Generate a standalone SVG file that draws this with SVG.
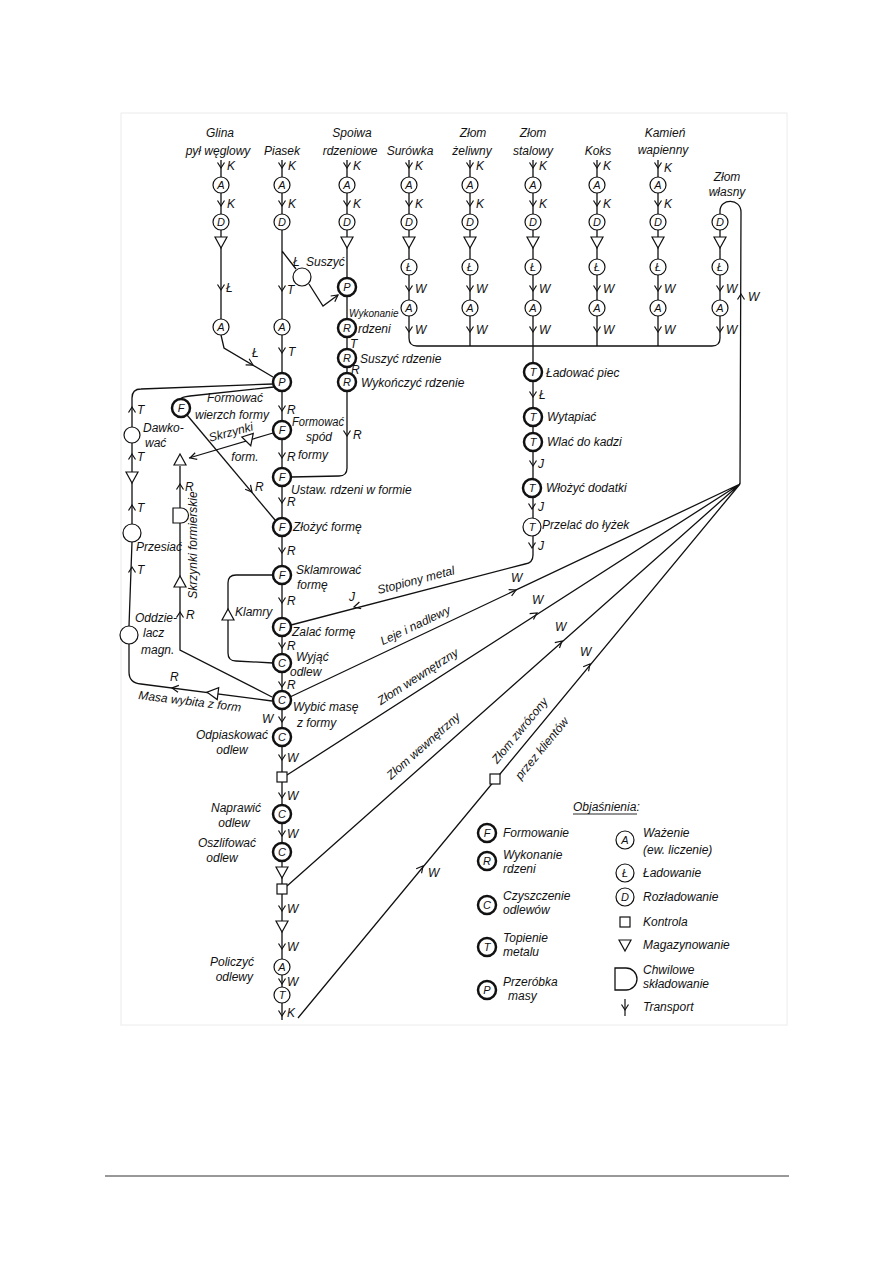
<svg xmlns="http://www.w3.org/2000/svg" width="893" height="1263" viewBox="0 0 893 1263">
<style>
.t{font-family:"Liberation Sans",Arial,sans-serif;font-style:italic;font-size:12px;fill:#111}
.c{text-anchor:middle}
.e{text-anchor:end}
.nl{font-family:"Liberation Sans",Arial,sans-serif;font-style:italic;font-size:11px;fill:#111;text-anchor:middle}
.ln{fill:none;stroke:#111;stroke-width:1.3}
.b{fill:#fff;stroke:#111;stroke-width:2.5}
.h{fill:#fff;stroke:#111;stroke-width:1.2}
</style>
<defs>
<path id="ad" d="M-3.5,-5.5L0,0L3.5,-5.5" fill="none" stroke="#111" stroke-width="1.2"/>
<path id="au" d="M-3.5,5.5L0,0L3.5,5.5" fill="none" stroke="#111" stroke-width="1.2"/>
<path id="ah" d="M-6.5,-3.5L0,0L-6.5,3.5" fill="none" stroke="#111" stroke-width="1.2"/>
<polygon id="tri" points="-6,-5 6,-5 0,6" fill="#fff" stroke="#111" stroke-width="1.2"/>
<polygon id="triu" points="-6,5 6,5 0,-6" fill="#fff" stroke="#111" stroke-width="1.2"/>
<rect id="sq" x="-5" y="-5" width="10" height="10" fill="#fff" stroke="#111" stroke-width="1.2"/>
</defs>
<rect x="0" y="0" width="893" height="1263" fill="#fff"/>
<rect x="121" y="113" width="666" height="912" fill="none" stroke="#ececec" stroke-width="1"/>
<line x1="105" y1="1176" x2="789" y2="1176" stroke="#333" stroke-width="1"/>

<g id="connectors">
<path class="ln" d="M221,160L221,319M221,335L224,348L273,377"/>
<path class="ln" d="M282,160L282,1020M282,251L296,269"/>
<path class="ln" d="M309,284L323,306L338,295"/>
<path class="ln" d="M347,160L347,468Q347,476 339,476L291,477"/>
<path class="ln" d="M409,160L409,338Q409,346 417,346L712,346Q720,346 720,338L720,214"/>
<path class="ln" d="M470,160L470,346M597,160L597,346M658,160L658,346"/>
<path class="ln" d="M533,160L533,555Q533,563 525,564L291,625"/>
<path class="ln" d="M720,214L720,211C720,198 741,198 741,212L740,484"/>
<path class="ln" d="M273,384L141,389Q132,389 132,398L132,542L129,626L129,672Q129,683 141,684L272,701"/>
<path class="ln" d="M274,387L190,396Q181,397 181,399"/>
<path class="ln" d="M187,415L275,520"/>
<path class="ln" d="M273,433L189,458"/>
<path class="ln" d="M180,466L180,650L272,697"/>
<path class="ln" d="M273,575L236,575Q228,575 228,583L228,653Q228,661 236,661L273,663"/>
<path class="ln" d="M740,484L290,697M740,484L287,775M740,484L287,886M740,484L298,1018"/>
<g>
<use href="#ad" x="221" y="168"/><use href="#ad" x="282" y="168"/><use href="#ad" x="347" y="168"/><use href="#ad" x="409" y="168"/><use href="#ad" x="470" y="168"/><use href="#ad" x="533" y="168"/><use href="#ad" x="597" y="168"/><use href="#ad" x="658" y="168"/>
<use href="#ad" x="221" y="206"/><use href="#ad" x="282" y="206"/><use href="#ad" x="347" y="206"/><use href="#ad" x="409" y="206"/><use href="#ad" x="470" y="206"/><use href="#ad" x="533" y="206"/><use href="#ad" x="597" y="206"/><use href="#ad" x="658" y="206"/>
<use href="#ad" x="221" y="290"/><use href="#ad" x="282" y="291"/><use href="#ad" x="282" y="353"/>
<use href="#ad" x="409" y="291"/><use href="#ad" x="470" y="291"/><use href="#ad" x="533" y="291"/><use href="#ad" x="597" y="291"/><use href="#ad" x="658" y="291"/><use href="#ad" x="720" y="291"/>
<use href="#ad" x="409" y="332"/><use href="#ad" x="470" y="332"/><use href="#ad" x="533" y="332"/><use href="#ad" x="597" y="332"/><use href="#ad" x="658" y="332"/><use href="#ad" x="720" y="332"/>
<use href="#ad" x="533" y="397"/><use href="#ad" x="533" y="466"/><use href="#ad" x="532" y="509"/><use href="#ad" x="532" y="548"/>
<use href="#ad" x="347" y="436"/>
<use href="#ad" x="282" y="411"/><use href="#ad" x="282" y="458"/><use href="#ad" x="282" y="503"/><use href="#ad" x="282" y="553"/><use href="#ad" x="282" y="603"/><use href="#ad" x="282" y="648"/><use href="#ad" x="282" y="687"/>
<use href="#ad" x="282" y="722"/><use href="#ad" x="282" y="760"/><use href="#ad" x="282" y="798"/><use href="#ad" x="282" y="836"/><use href="#ad" x="282" y="911"/><use href="#ad" x="282" y="949"/><use href="#ad" x="282" y="984"/><use href="#ad" x="282" y="1016"/>
<use href="#au" x="132" y="407"/><use href="#au" x="132" y="454"/><use href="#au" x="132" y="505"/><use href="#au" x="132" y="567"/>
<use href="#au" x="180" y="484"/><use href="#au" x="180" y="612"/><use href="#au" x="741" y="294"/>
<use href="#ah" transform="translate(253,365) rotate(30)"/>
<use href="#ah" transform="translate(252,492) rotate(50)"/>
<use href="#ah" transform="translate(190,458) rotate(163)"/>
<use href="#ah" transform="translate(338,295) rotate(-36)"/>
<use href="#ah" transform="translate(354,607) rotate(165.4)"/>
<use href="#ah" transform="translate(172,688) rotate(187)"/>
<use href="#ah" transform="translate(516,590) rotate(-25.4)"/>
<use href="#ah" transform="translate(537,613) rotate(-32.8)"/>
<use href="#ah" transform="translate(562,641) rotate(-41.6)"/>
<use href="#ah" transform="translate(590,664) rotate(-50.5)"/>
<use href="#ah" transform="translate(423,866) rotate(-50.5)"/>
</g>
<g class="t">
<text x="227" y="170">K</text><text x="288" y="170">K</text><text x="353" y="170">K</text><text x="415" y="170">K</text><text x="476" y="170">K</text><text x="539" y="170">K</text><text x="603" y="170">K</text><text x="664" y="172">K</text>
<text x="227" y="208">K</text><text x="288" y="208">K</text><text x="353" y="208">K</text><text x="415" y="208">K</text><text x="476" y="208">K</text><text x="539" y="208">K</text><text x="603" y="208">K</text><text x="664" y="208">K</text>
<text x="226" y="292">Ł</text><text x="287" y="294">T</text><text x="288" y="356">T</text>
<text x="415" y="293">W</text><text x="476" y="293">W</text><text x="539" y="293">W</text><text x="603" y="293">W</text><text x="664" y="293">W</text><text x="726" y="293">W</text>
<text x="415" y="334">W</text><text x="476" y="334">W</text><text x="539" y="334">W</text><text x="603" y="334">W</text><text x="664" y="334">W</text><text x="726" y="334">W</text>
<text x="748" y="301">W</text>
<text x="252" y="357">Ł</text>
<text x="293" y="266">Ł</text>
<text x="539" y="399">Ł</text><text x="538" y="468">J</text><text x="538" y="511">J</text><text x="538" y="550">J</text>
<text x="353" y="439">R</text>
<text x="287" y="414">R</text><text x="287" y="461">R</text><text x="287" y="506">R</text><text x="287" y="555">R</text><text x="287" y="605">R</text><text x="287" y="650">R</text><text x="287" y="689">R</text>
<text x="262" y="723">W</text><text x="287" y="762">W</text><text x="287" y="800">W</text><text x="287" y="838">W</text><text x="287" y="913">W</text><text x="287" y="951">W</text><text x="287" y="986">W</text><text x="287" y="1017">K</text>
<text x="137" y="414">T</text><text x="137" y="461">T</text><text x="137" y="512">T</text><text x="137" y="574">T</text>
<text x="185" y="491">R</text><text x="186" y="619">R</text>
<text x="255" y="491">R</text>
<text x="170" y="681">R</text>
<text x="349" y="601">J</text>
<text x="511" y="582">W</text><text x="532" y="604">W</text><text x="555" y="631">W</text><text x="580" y="656">W</text><text x="428" y="877">W</text>
<text x="350" y="348">T</text><text x="351" y="374">R</text>
</g>
</g>

<g id="node-glina" class="t c"><text x="220" y="137">Glina</text><text x="218" y="155">pył węglowy</text>
<circle class="h" cx="221" cy="185" r="8"/><text class="nl" x="221" y="189">A</text>
<circle class="h" cx="221" cy="222" r="8"/><text class="nl" x="221" y="226">D</text>
<use href="#tri" x="221" y="242"/>
<circle class="h" cx="221" cy="327" r="8"/><text class="nl" x="221" y="331">A</text></g>

<g id="node-piasek" class="t c"><text x="282" y="155">Piasek</text>
<circle class="h" cx="282" cy="185" r="8"/><text class="nl" x="282" y="189">A</text>
<circle class="h" cx="282" cy="222" r="8"/><text class="nl" x="282" y="226">D</text>
<circle class="h" cx="282" cy="327" r="8"/><text class="nl" x="282" y="331">A</text></g>

<g id="node-suszyc"><circle class="h" cx="302" cy="277" r="9"/><text class="t" x="306" y="266">Suszyć</text></g>

<g id="node-spoiwa" class="t c"><text x="352" y="137">Spoiwa</text><text x="350" y="155">rdzeniowe</text>
<circle class="h" cx="347" cy="185" r="8"/><text class="nl" x="347" y="189">A</text>
<circle class="h" cx="347" cy="222" r="8"/><text class="nl" x="347" y="226">D</text>
<use href="#tri" x="347" y="242"/>
<circle class="b" cx="347" cy="287" r="9"/><text class="nl" x="347" y="291">P</text></g>

<g id="node-rdzenie">
<circle class="b" cx="347" cy="328" r="9"/><text class="nl" x="347" y="332">R</text>
<text class="t" x="349" y="317" style="font-size:10px">Wykonanie</text><text class="t" x="358" y="333">rdzeni</text>
<circle class="b" cx="347" cy="358" r="9"/><text class="nl" x="347" y="362">R</text>
<text class="t" x="360" y="363">Suszyć rdzenie</text>
<circle class="b" cx="347" cy="382" r="9"/><text class="nl" x="347" y="386">R</text>
<text class="t" x="361" y="387">Wykończyć rdzenie</text></g>

<g id="node-surowka" class="t c"><text x="410" y="155">Surówka</text>
<circle class="h" cx="409" cy="185" r="8"/><text class="nl" x="409" y="189">A</text>
<circle class="h" cx="409" cy="222" r="8"/><text class="nl" x="409" y="226">D</text>
<use href="#tri" x="409" y="242"/>
<circle class="h" cx="409" cy="267" r="8"/><text class="nl" x="409" y="271">Ł</text>
<circle class="h" cx="409" cy="308" r="8"/><text class="nl" x="409" y="312">A</text></g>

<g id="node-zeliwny" class="t c"><text x="473" y="137">Złom</text><text x="472" y="155">żeliwny</text>
<circle class="h" cx="470" cy="185" r="8"/><text class="nl" x="470" y="189">A</text>
<circle class="h" cx="470" cy="222" r="8"/><text class="nl" x="470" y="226">D</text>
<use href="#tri" x="470" y="242"/>
<circle class="h" cx="470" cy="267" r="8"/><text class="nl" x="470" y="271">Ł</text>
<circle class="h" cx="470" cy="308" r="8"/><text class="nl" x="470" y="312">A</text></g>

<g id="node-stalowy" class="t c"><text x="533" y="137">Złom</text><text x="533" y="155">stalowy</text>
<circle class="h" cx="533" cy="185" r="8"/><text class="nl" x="533" y="189">A</text>
<circle class="h" cx="533" cy="222" r="8"/><text class="nl" x="533" y="226">D</text>
<use href="#tri" x="533" y="242"/>
<circle class="h" cx="533" cy="267" r="8"/><text class="nl" x="533" y="271">Ł</text>
<circle class="h" cx="533" cy="308" r="8"/><text class="nl" x="533" y="312">A</text></g>

<g id="node-koks" class="t c"><text x="598" y="155">Koks</text>
<circle class="h" cx="597" cy="185" r="8"/><text class="nl" x="597" y="189">A</text>
<circle class="h" cx="597" cy="222" r="8"/><text class="nl" x="597" y="226">D</text>
<use href="#tri" x="597" y="242"/>
<circle class="h" cx="597" cy="267" r="8"/><text class="nl" x="597" y="271">Ł</text>
<circle class="h" cx="597" cy="308" r="8"/><text class="nl" x="597" y="312">A</text></g>

<g id="node-kamien" class="t c"><text x="665" y="137">Kamień</text><text x="663" y="154">wapienny</text>
<circle class="h" cx="658" cy="185" r="8"/><text class="nl" x="658" y="189">A</text>
<circle class="h" cx="658" cy="222" r="8"/><text class="nl" x="658" y="226">D</text>
<use href="#tri" x="658" y="242"/>
<circle class="h" cx="658" cy="267" r="8"/><text class="nl" x="658" y="271">Ł</text>
<circle class="h" cx="658" cy="308" r="8"/><text class="nl" x="658" y="312">A</text></g>

<g id="node-wlasny" class="t c"><text x="727" y="181">Złom</text><text x="727" y="196">własny</text>
<circle class="h" cx="720" cy="222" r="8"/><text class="nl" x="720" y="226">D</text>
<use href="#tri" x="720" y="242"/>
<circle class="h" cx="720" cy="267" r="8"/><text class="nl" x="720" y="271">Ł</text>
<circle class="h" cx="720" cy="308" r="8"/><text class="nl" x="720" y="312">A</text></g>

<g id="node-piec" class="t">
<circle class="b" cx="533" cy="372" r="9"/><text class="nl" x="533" y="376">T</text><text x="546" y="377">Ładować piec</text>
<circle class="b" cx="533" cy="417" r="9"/><text class="nl" x="533" y="421">T</text><text x="547" y="421">Wytapiać</text>
<circle class="b" cx="533" cy="442" r="9"/><text class="nl" x="533" y="446">T</text><text x="547" y="446">Wlać do kadzi</text>
<circle class="b" cx="532" cy="488" r="9"/><text class="nl" x="532" y="492">T</text><text x="546" y="492">Włożyć dodatki</text>
<circle class="h" cx="532" cy="527" r="9"/><text class="nl" x="532" y="531">T</text><text x="542" y="529">Przelać do łyżek</text></g>

<g id="node-p-masa"><circle class="b" cx="282" cy="382" r="9"/><text class="nl" x="282" y="386">P</text></g>

<g id="node-spod" class="t"><circle class="b" cx="282" cy="430" r="9"/><text class="nl" x="282" y="434">F</text>
<text x="292" y="426" textLength="52" lengthAdjust="spacingAndGlyphs">Formować</text><text x="306" y="441">spód</text><text x="298" y="459">formy</text></g>
<g id="node-ustaw" class="t"><circle class="b" cx="282" cy="477" r="9"/><text class="nl" x="282" y="481">F</text><text x="291" y="494">Ustaw. rdzeni w formie</text></g>
<g id="node-zlozyc" class="t"><circle class="b" cx="282" cy="527" r="9"/><text class="nl" x="282" y="531">F</text><text x="293" y="531">Złożyć formę</text></g>
<g id="node-sklamrowac" class="t"><circle class="b" cx="282" cy="575" r="9"/><text class="nl" x="282" y="579">F</text><text x="296" y="574">Sklamrować</text><text x="297" y="589">formę</text></g>
<g id="node-zalac" class="t"><circle class="b" cx="282" cy="627" r="9"/><text class="nl" x="282" y="631">F</text><text x="292" y="636">Zalać formę</text></g>
<g id="node-wyjac" class="t"><circle class="b" cx="282" cy="663" r="9"/><text class="nl" x="282" y="667">C</text><text x="296" y="661">Wyjąć</text><text x="290" y="676">odlew</text></g>
<g id="node-wybic" class="t"><circle class="b" cx="282" cy="700" r="9"/><text class="nl" x="282" y="704">C</text><text x="293" y="711">Wybić masę</text><text x="297" y="727">z formy</text></g>
<g id="node-odpiaskowac" class="t"><circle class="b" cx="282" cy="737" r="9"/><text class="nl" x="282" y="741">C</text><text class="e" x="268" y="739">Odpiaskować</text><text class="c" x="232" y="754">odlew</text></g>
<g id="node-kontrola1"><use href="#sq" x="282" y="777"/></g>
<g id="node-naprawic" class="t"><circle class="b" cx="282" cy="814" r="9"/><text class="nl" x="282" y="818">C</text><text class="e" x="261" y="812">Naprawić</text><text class="c" x="234" y="827">odlew</text></g>
<g id="node-oszlifowac" class="t"><circle class="b" cx="282" cy="852" r="9"/><text class="nl" x="282" y="856">C</text><text class="e" x="256" y="847">Oszlifować</text><text class="c" x="222" y="862">odlew</text></g>
<g id="node-mag1"><use href="#tri" x="282" y="872"/></g>
<g id="node-kontrola2"><use href="#sq" x="282" y="889"/></g>
<g id="node-mag2"><use href="#tri" x="282" y="926"/></g>
<g id="node-policzyc" class="t"><circle class="h" cx="282" cy="967" r="8"/><text class="nl" x="282" y="971">A</text><text class="e" x="254" y="966">Policzyć</text><text class="e" x="253" y="981">odlewy</text></g>
<g id="node-ladowanie-koniec"><circle class="h" cx="282" cy="995" r="8"/><text class="nl" x="282" y="999">T</text></g>

<g id="node-wierzch" class="t"><circle class="b" cx="181" cy="408" r="9"/><text class="nl" x="181" y="412">F</text>
<text x="207" y="402">Formować</text><text x="195" y="419">wierzch formy</text></g>

<g id="node-skrzynki" class="t">
<use href="#tri" transform="translate(249,440) rotate(-17)"/>
<text transform="translate(232,436) rotate(-15)" class="c">Skrzynki</text>
<text x="245" y="461" class="c">form.</text>
<use href="#triu" x="180" y="460"/>
<path d="M173,508L181,508A7.5,7.5 0 0 1 181,523L173,523Z" fill="#fff" stroke="#111" stroke-width="1.2"/>
<use href="#triu" x="180" y="582"/>
<text transform="translate(197,545) rotate(-90)" class="c">Skrzynki formierskie</text></g>

<g id="node-klamry" class="t"><use href="#triu" x="228" y="615"/><text x="235" y="616">Klamry</text></g>

<g id="node-dawkowac" class="t"><circle class="h" cx="132" cy="435" r="8"/><text x="143" y="432">Dawko-</text><text x="145" y="447">wać</text></g>
<g id="node-mag-piasek"><use href="#tri" x="132" y="477"/></g>
<g id="node-przesiac" class="t"><circle class="h" cx="132" cy="533" r="9"/><text x="136" y="551">Przesiać</text></g>
<g id="node-oddzielacz" class="t"><circle class="h" cx="129" cy="635" r="9"/><text x="135" y="622">Oddzie-</text><text x="143" y="637">lacz</text><text x="141" y="654">magn.</text></g>
<g id="node-masa" class="t"><use href="#tri" transform="translate(213,693) rotate(97)"/><text transform="translate(138,699) rotate(7)">Masa wybita z form</text></g>

<g id="node-kontrola3"><use href="#sq" x="495" y="779"/></g>

<g id="labels" class="t">
<text transform="translate(417,584) rotate(-14.6)" class="c">Stopiony metal</text>
<text transform="translate(417,629) rotate(-25.4)" class="c">Leje i nadlewy</text>
<text transform="translate(420,680) rotate(-32.8)" class="c">Złom wewnętrzny</text>
<text transform="translate(426,749) rotate(-41.6)" class="c">Złom wewnętrzny</text>
<text transform="translate(523,733) rotate(-50.5)" class="c">Złom zwrócony</text>
<text transform="translate(545,751) rotate(-50.5)" class="c">przez klientów</text>
</g>

<g id="legend" class="t">
<text x="573" y="811">Objaśnienia:</text><line x1="573" y1="814" x2="637" y2="814" stroke="#111" stroke-width="0.9"/>
<circle class="b" cx="487" cy="833" r="9"/><text class="nl" x="487" y="837">F</text><text x="503" y="837">Formowanie</text>
<circle class="b" cx="487" cy="861" r="9"/><text class="nl" x="487" y="865">R</text><text x="503" y="859">Wykonanie</text><text x="503" y="873">rdzeni</text>
<circle class="b" cx="487" cy="905" r="9"/><text class="nl" x="487" y="909">C</text><text x="503" y="900">Czyszczenie</text><text x="503" y="914">odlewów</text>
<circle class="b" cx="487" cy="947" r="9"/><text class="nl" x="487" y="951">T</text><text x="503" y="942">Topienie</text><text x="503" y="956">metalu</text>
<circle class="b" cx="487" cy="990" r="9"/><text class="nl" x="487" y="994">P</text><text x="503" y="986">Przeróbka</text><text x="508" y="1000">masy</text>
<circle class="h" cx="625" cy="840" r="9"/><text class="nl" x="625" y="844">A</text><text x="643" y="837">Ważenie</text><text x="643" y="854">(ew. liczenie)</text>
<circle class="h" cx="625" cy="873" r="9"/><text class="nl" x="625" y="877">Ł</text><text x="643" y="877">Ładowanie</text>
<circle class="h" cx="625" cy="897" r="9"/><text class="nl" x="625" y="901">D</text><text x="643" y="901">Rozładowanie</text>
<use href="#sq" x="625" y="922"/><text x="643" y="926">Kontrola</text>
<use href="#tri" x="625" y="945"/><text x="643" y="949">Magazynowanie</text>
<path d="M615,968L626,968A11,11 0 0 1 626,990L615,990Z" fill="#fff" stroke="#111" stroke-width="1.3"/><text x="643" y="974">Chwilowe</text><text x="643" y="988">składowanie</text>
<line x1="625" y1="999" x2="625" y2="1016" stroke="#111" stroke-width="1.2"/><use href="#ad" x="625" y="1010"/><text x="643" y="1011">Transport</text>
</g>
</svg>
